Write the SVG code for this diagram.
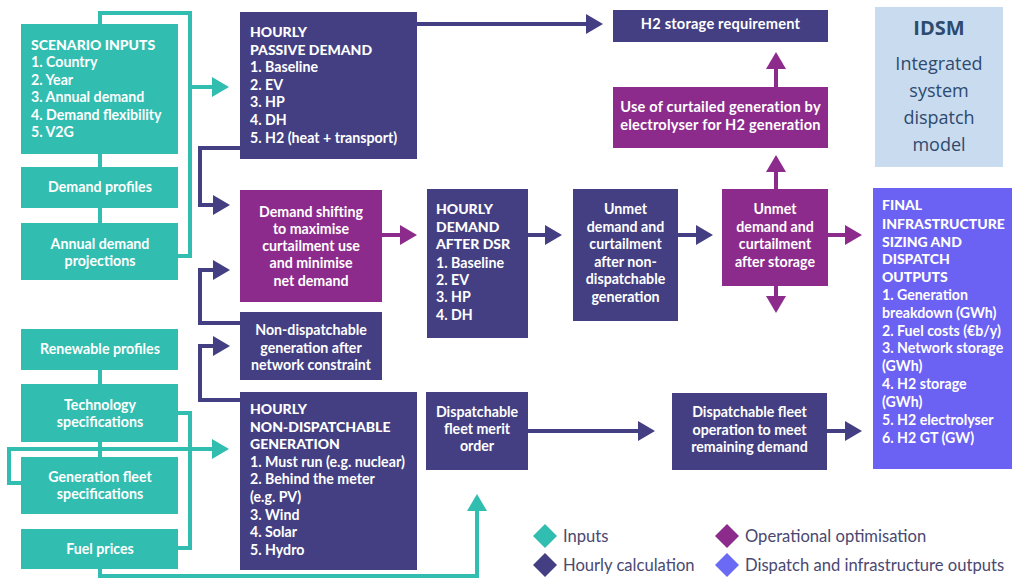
<svg xmlns="http://www.w3.org/2000/svg" width="1012" height="579" viewBox="0 0 1012 579">
<style>
  .teal{fill:#31bdb0}
  .navy{fill:#433f82}
  .purp{fill:#8c2b8c}
  .fin{fill:#6b61f3}
  .idsm{fill:#c8dbef}
  text{font-family:Lato,"Liberation Sans",sans-serif;fill:#ffffff;font-size:14.2px;font-weight:700}
  .h{font-weight:900;font-size:14px}
  .c{text-anchor:middle}
  .w{font-size:14.6px;letter-spacing:0.2px}
  .lt{stroke:#31bdb0;stroke-width:4;fill:none}
  .ln{stroke:#433f82;stroke-width:4;fill:none}
  .lp{stroke:#8c2b8c;stroke-width:4;fill:none}
  .leg{fill:#4a4870;font-weight:400;font-size:16.6px}
  .id{font-family:"Open Sans","Noto Sans",sans-serif;fill:#2e4a6e;font-weight:400;font-size:18px;text-anchor:middle}
</style>
<defs>
  <marker id="at" markerUnits="userSpaceOnUse" markerWidth="17" markerHeight="20" refX="9" refY="10" orient="auto"><path d="M0,0 L17,10 L0,20 z" fill="#31bdb0"/></marker>
  <marker id="an" markerUnits="userSpaceOnUse" markerWidth="17" markerHeight="20" refX="9" refY="10" orient="auto"><path d="M0,0 L17,10 L0,20 z" fill="#433f82"/></marker>
  <marker id="ap" markerUnits="userSpaceOnUse" markerWidth="17" markerHeight="20" refX="9" refY="10" orient="auto"><path d="M0,0 L17,10 L0,20 z" fill="#8c2b8c"/></marker>
</defs>
<rect width="1012" height="579" fill="#ffffff"/>
<g id="connectors">
  <path class="lt" d="M100,24 V13 H190 V256 H178"/>
  <path class="lt" d="M190,87 H221" marker-end="url(#at)"/>
  <path class="lt" d="M100,154 V167 M100,208 V223 M100,370 V384 M100,442 V457"/>
  <path class="lt" d="M21,483 H9 V449 H221" marker-end="url(#at)"/>
  <path class="lt" d="M178,413 H190 V548 H178"/>
  <path class="lt" d="M100,569 V576 H477 V502" marker-end="url(#at)"/>
  <path class="ln" d="M417,24 H595" marker-end="url(#an)"/>
  <path class="ln" d="M240,148 H200 V205 H222" marker-end="url(#an)"/>
  <path class="ln" d="M240,323 H200 V270 H222" marker-end="url(#an)"/>
  <path class="ln" d="M240,400 H200 V346 H222" marker-end="url(#an)"/>
  <path class="ln" d="M528,235 H554" marker-end="url(#an)"/>
  <path class="ln" d="M678,235 H705" marker-end="url(#an)"/>
  <path class="ln" d="M528,431 H647" marker-end="url(#an)"/>
  <path class="ln" d="M827,431 H854" marker-end="url(#an)"/>
  <path class="lp" d="M382,235 H409" marker-end="url(#ap)"/>
  <path class="lp" d="M776,87 V60" marker-end="url(#ap)"/>
  <path class="lp" d="M776,189 V163" marker-end="url(#ap)"/>
  <path class="lp" d="M776,286 V305" marker-end="url(#ap)"/>
  <path class="lp" d="M828,235 H854" marker-end="url(#ap)"/>
</g>
<g id="scenario-inputs">
  <rect class="teal" x="21" y="24" width="157" height="130"/>
  <text x="31" y="50" class="h">SCENARIO INPUTS</text>
  <text x="31" y="67">1. Country</text>
  <text x="31" y="85">2. Year</text>
  <text x="31" y="102">3. Annual demand</text>
  <text x="31" y="120">4. Demand flexibility</text>
  <text x="31" y="137">5. V2G</text>
</g>
<g id="demand-profiles">
  <rect class="teal" x="21" y="167" width="157" height="41"/>
  <text x="100" y="192" class="c">Demand profiles</text>
</g>
<g id="annual-demand-projections">
  <rect class="teal" x="21" y="223" width="157" height="57"/>
  <text x="100" y="249" class="c">Annual demand</text>
  <text x="100" y="266" class="c">projections</text>
</g>
<g id="renewable-profiles">
  <rect class="teal" x="21" y="329" width="157" height="41"/>
  <text x="100" y="354" class="c">Renewable profiles</text>
</g>
<g id="technology-specifications">
  <rect class="teal" x="21" y="384" width="157" height="58"/>
  <text x="100" y="410" class="c">Technology</text>
  <text x="100" y="427" class="c">specifications</text>
</g>
<g id="generation-fleet-specifications">
  <rect class="teal" x="21" y="457" width="157" height="57"/>
  <text x="100" y="482" class="c">Generation fleet</text>
  <text x="100" y="499" class="c">specifications</text>
</g>
<g id="fuel-prices">
  <rect class="teal" x="21" y="529" width="157" height="40"/>
  <text x="100" y="554" class="c">Fuel prices</text>
</g>
<g id="hourly-passive-demand">
  <rect class="navy" x="240" y="12" width="177" height="147"/>
  <text x="250" y="37" class="h">HOURLY</text>
  <text x="250" y="55" class="h">PASSIVE DEMAND</text>
  <text x="250" y="72">1. Baseline</text>
  <text x="250" y="90">2. EV</text>
  <text x="250" y="107">3. HP</text>
  <text x="250" y="125">4. DH</text>
  <text x="250" y="143">5. H2 (heat + transport)</text>
</g>
<g id="demand-shifting">
  <rect class="purp" x="240" y="190" width="142" height="112"/>
  <text x="311" y="217" class="c">Demand shifting</text>
  <text x="311" y="234" class="c">to maximise</text>
  <text x="311" y="251" class="c">curtailment use</text>
  <text x="311" y="268" class="c">and minimise</text>
  <text x="311" y="286" class="c">net demand</text>
</g>
<g id="non-dispatchable-after-network">
  <rect class="navy" x="240" y="312" width="142" height="68"/>
  <text x="311" y="335" class="c">Non-dispatchable</text>
  <text x="311" y="353" class="c">generation after</text>
  <text x="311" y="370" class="c">network constraint</text>
</g>
<g id="hourly-non-dispatchable-generation">
  <rect class="navy" x="240" y="392" width="177" height="178"/>
  <text x="250" y="414" class="h">HOURLY</text>
  <text x="250" y="432" class="h">NON-DISPATCHABLE</text>
  <text x="250" y="449" class="h">GENERATION</text>
  <text x="250" y="467">1. Must run (e.g. nuclear)</text>
  <text x="250" y="484">2. Behind the meter</text>
  <text x="250" y="502">(e.g. PV)</text>
  <text x="250" y="520">3. Wind</text>
  <text x="250" y="537">4. Solar</text>
  <text x="250" y="555">5. Hydro</text>
</g>
<g id="hourly-demand-after-dsr">
  <rect class="navy" x="427" y="189" width="101" height="149"/>
  <text x="436" y="214" class="h">HOURLY</text>
  <text x="436" y="232" class="h">DEMAND</text>
  <text x="436" y="249" class="h">AFTER DSR</text>
  <text x="436" y="268">1. Baseline</text>
  <text x="436" y="285">2. EV</text>
  <text x="436" y="302">3. HP</text>
  <text x="436" y="320">4. DH</text>
</g>
<g id="dispatchable-fleet-merit-order">
  <rect class="navy" x="426" y="392" width="102" height="78"/>
  <text x="477" y="417" class="c">Dispatchable</text>
  <text x="477" y="434" class="c">fleet merit</text>
  <text x="477" y="451" class="c">order</text>
</g>
<g id="unmet-after-non-dispatchable">
  <rect class="navy" x="573" y="189" width="105" height="132"/>
  <text x="625.5" y="214" class="c">Unmet</text>
  <text x="625.5" y="232" class="c">demand and</text>
  <text x="625.5" y="249" class="c">curtailment</text>
  <text x="625.5" y="267" class="c">after non-</text>
  <text x="625.5" y="284" class="c">dispatchable</text>
  <text x="625.5" y="302" class="c">generation</text>
</g>
<g id="h2-storage-requirement">
  <rect class="navy" x="613" y="10" width="215" height="32"/>
  <text x="720.5" y="29" class="c w">H2 storage requirement</text>
</g>
<g id="use-of-curtailed-generation">
  <rect class="purp" x="613" y="87" width="215" height="61"/>
  <text x="720.5" y="112" class="c w">Use of curtailed generation by</text>
  <text x="720.5" y="130" class="c w">electrolyser for H2 generation</text>
</g>
<g id="unmet-after-storage">
  <rect class="purp" x="722" y="189" width="106" height="97"/>
  <text x="775" y="214" class="c">Unmet</text>
  <text x="775" y="232" class="c">demand and</text>
  <text x="775" y="249" class="c">curtailment</text>
  <text x="775" y="267" class="c">after storage</text>
</g>
<g id="dispatchable-fleet-operation">
  <rect class="navy" x="672" y="393" width="155" height="77"/>
  <text x="749.5" y="417" class="c">Dispatchable fleet</text>
  <text x="749.5" y="435" class="c">operation to meet</text>
  <text x="749.5" y="452" class="c">remaining demand</text>
</g>
<g id="idsm">
  <rect class="idsm" x="875" y="7" width="128" height="160"/>
  <text x="939" y="35" class="id" style="font-weight:700;font-size:20px">IDSM</text>
  <text x="939" y="70" class="id">Integrated</text>
  <text x="939" y="97" class="id">system</text>
  <text x="939" y="124" class="id">dispatch</text>
  <text x="939" y="151" class="id">model</text>
</g>
<g id="final-outputs">
  <rect class="fin" x="873" y="188" width="139" height="281"/>
  <text x="882" y="210" class="h">FINAL</text>
  <text x="882" y="229" class="h">INFRASTRUCTURE</text>
  <text x="882" y="247" class="h">SIZING AND</text>
  <text x="882" y="264" class="h">DISPATCH</text>
  <text x="882" y="282" class="h">OUTPUTS</text>
  <text x="882" y="300">1. Generation</text>
  <text x="882" y="318">breakdown (GWh)</text>
  <text x="882" y="336">2. Fuel costs (€b/y)</text>
  <text x="882" y="353">3. Network storage</text>
  <text x="882" y="371">(GWh)</text>
  <text x="882" y="389">4. H2 storage</text>
  <text x="882" y="407">(GWh)</text>
  <text x="882" y="425">5. H2 electrolyser</text>
  <text x="882" y="443">6. H2 GT (GW)</text>
</g>
<g id="legend">
  <path d="M545,524 L557,536 L545,548 L533,536 z" fill="#31bdb0"/>
  <text x="563" y="542" class="leg">Inputs</text>
  <path d="M545,553 L557,565 L545,577 L533,565 z" fill="#433f82"/>
  <text x="563" y="571" class="leg">Hourly calculation</text>
  <path d="M727,524 L739,536 L727,548 L715,536 z" fill="#8c2b8c"/>
  <text x="745" y="542" class="leg">Operational optimisation</text>
  <path d="M727,553 L739,565 L727,577 L715,565 z" fill="#6b6af5"/>
  <text x="745" y="571" class="leg">Dispatch and infrastructure outputs</text>
</g>
</svg>
